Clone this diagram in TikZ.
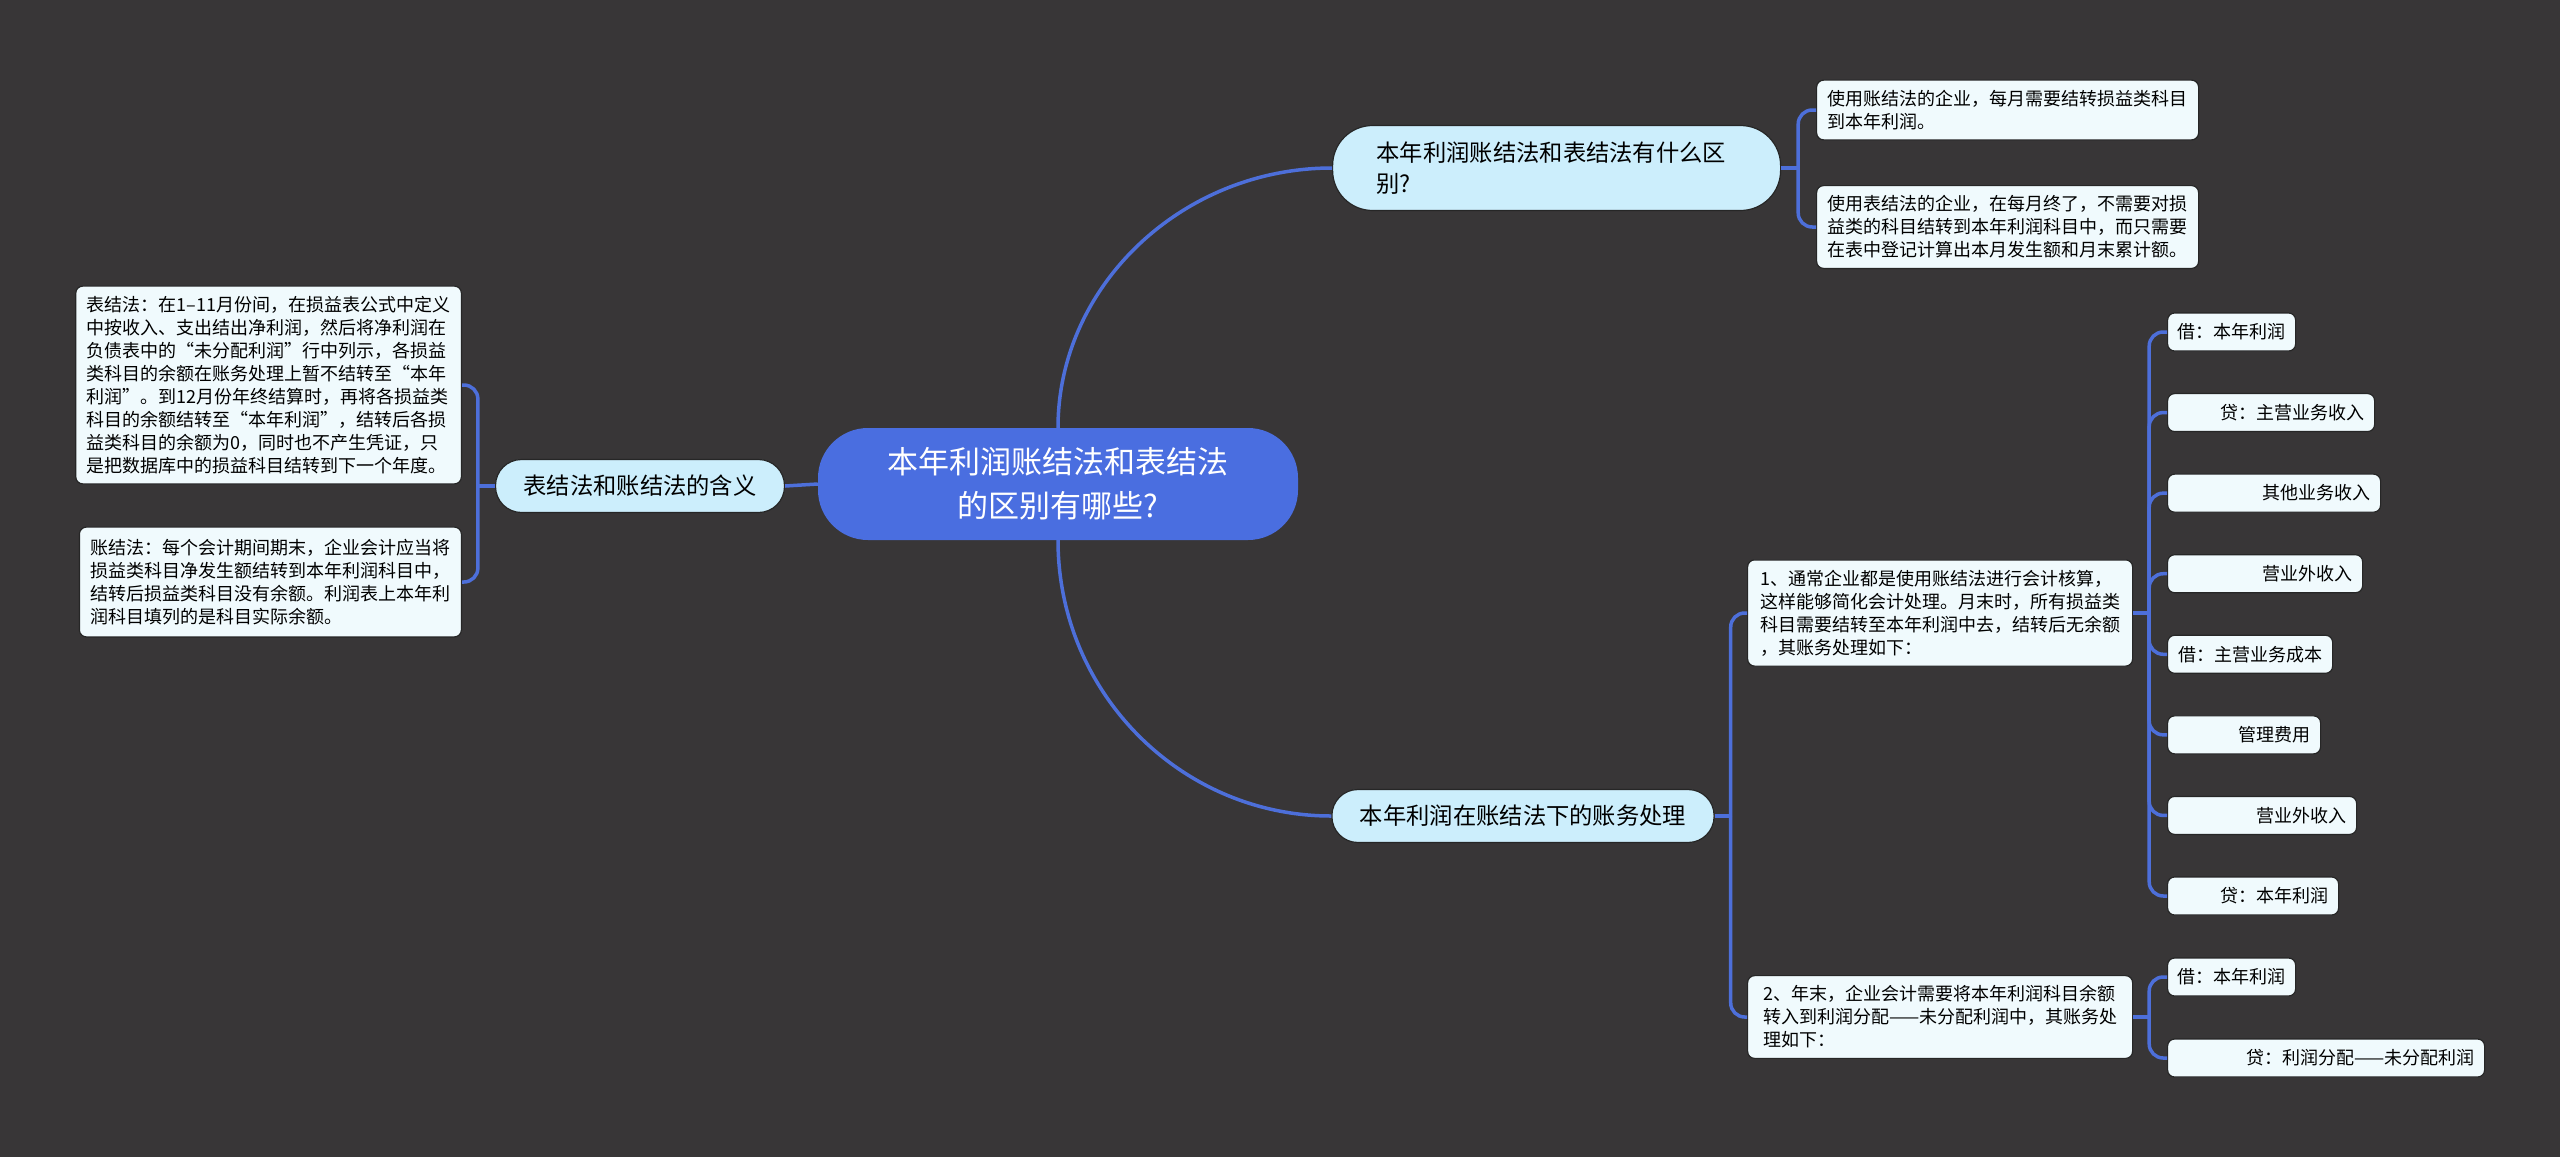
\documentclass[tikz,border=0pt]{standalone}
\usepackage{fontspec}
\newfontfamily\cjk{Noto Sans CJK SC}
\usetikzlibrary{positioning,calc}
\definecolor{bgdark}{HTML}{383637}
\definecolor{rootblue}{HTML}{4A6EE0}
\definecolor{topicblue}{HTML}{CCEEFC}
\definecolor{leafwhite}{HTML}{F0FAFD}
\definecolor{linkblue}{HTML}{4D6FDA}
\definecolor{rim}{HTML}{262626}

\begin{document}
\begin{tikzpicture}[x=1pt,y=-1pt,font=\cjk,
  root/.style={fill=rootblue,text=white,rounded corners=50,minimum width=480,minimum height=112,align=center,font=\cjk\fontsize{31}{44}\selectfont},
  topic/.style={fill=topicblue,draw=rim,line width=1.2,rounded corners=26,minimum height=53,inner xsep=28,font=\cjk\fontsize{23.3}{31}\selectfont},
  leaf/.style={fill=leafwhite,draw=rim,line width=1.2,rounded corners=7,inner xsep=11,inner ysep=10,align=left,font=\cjk\fontsize{18}{23}\selectfont},
  item/.style={leaf,anchor=west,inner xsep=10,inner ysep=0,minimum height=38,align=right},
  link/.style={draw=linkblue,line width=3.5}]
  \useasboundingbox (0,0) rectangle (2560,1157);
  \fill[bgdark] (0,0) rectangle (2560,1157);

  % centre and the three topics
  \node[root] (root) at (1058,484) {本年利润账结法和表结法\\的区别有哪些?};
  \node[topic,anchor=west,align=left,text width=360pt,minimum height=85,inner xsep=44,rounded corners=40] (s1) at (1332,168) {本年利润账结法和表结法有什么区\\别?};
  \node[topic] (s2) at (1523,816) {本年利润在账结法下的账务处理};
  \node[topic] (s3) at (640,486) {表结法和账结法的含义};

  \draw[link] (root.west) -- (s3.east);
  \draw[link] (root.north) .. controls +(0,-142) and +(-150,0) .. (s1.west);
  \draw[link] (root.south) .. controls +(0,152) and +(-151,0) .. (s2.west);

  % left side
  \node[leaf,anchor=east] (l1) at (462,385) {表结法：在1–11月份间，在损益表公式中定义\\中按收入、支出结出净利润，然后将净利润在\\负债表中的“未分配利润”行中列示，各损益\\类科目的余额在账务处理上暂不结转至“本年\\利润”。到12月份年终结算时，再将各损益类\\科目的余额结转至“本年利润”，结转后各损\\益类科目的余额为0，同时也不产生凭证，只\\是把数据库中的损益科目结转到下一个年度。};
  \node[leaf,anchor=east,inner ysep=12] (l2) at (462,582) {账结法：每个会计期间期末，企业会计应当将\\损益类科目净发生额结转到本年利润科目中，\\结转后损益类科目没有余额。利润表上本年利\\润科目填列的是科目实际余额。};
  \draw[link] (s3.west) -- ++(-17,0) coordinate (s3j);
  \foreach \n in {l1,l2}
    \draw[link,rounded corners=14] (s3j) |- (\n.east);

  % top right
  \node[leaf,anchor=west] (t1) at (1816,110) {使用账结法的企业，每月需要结转损益类科目\\到本年利润。};
  \node[leaf,anchor=west] (t2) at (1816,227) {使用表结法的企业，在每月终了，不需要对损\\益类的科目结转到本年利润科目中，而只需要\\在表中登记计算出本月发生额和月末累计额。};
  \draw[link] (s1.east) -- ++(17,0) coordinate (s1j);
  \foreach \n in {t1,t2}
    \draw[link,rounded corners=14] (s1j) |- (\n.west);

  % bottom right
  \node[leaf,anchor=west,minimum width=385] (m1) at (1747,613) {1、通常企业都是使用账结法进行会计核算，\\这样能够简化会计处理。月末时，所有损益类\\科目需要结转至本年利润中去，结转后无余额\\，其账务处理如下：};
  \node[leaf,anchor=west,minimum width=385] (m2) at (1747,1017) {2、年末，企业会计需要将本年利润科目余额\\转入到利润分配——未分配利润中，其账务处\\理如下：};
  \draw[link] (s2.east) -- ++(16,0) coordinate (s2j);
  \foreach \n in {m1,m2}
    \draw[link,rounded corners=14] (s2j) |- (\n.west);

  \draw[link] (m1.east) -- ++(16,0) coordinate (m1j);
  \foreach \i/\w/\t in {1/108/借：本年利润,2/187/贷：主营业务收入,3/193/其他业务收入,4/175/营业外收入,5/145/借：主营业务成本,6/133/管理费用,7/169/营业外收入,8/151/贷：本年利润}{
    \node[item,text width=\w pt] (a\i) at (2167,{332+80.57*(\i-1)}) {\t};
    \draw[link,rounded corners=14] (m1j) |- (a\i.west);
  }

  \draw[link] (m2.east) -- ++(16,0) coordinate (m2j);
  \foreach \i/\w/\y/\t in {1/108/977/借：本年利润,2/297/1058/贷：利润分配——未分配利润}{
    \node[item,text width=\w pt] (b\i) at (2167,\y) {\t};
    \draw[link,rounded corners=14] (m2j) |- (b\i.west);
  }
\end{tikzpicture}
\end{document}
